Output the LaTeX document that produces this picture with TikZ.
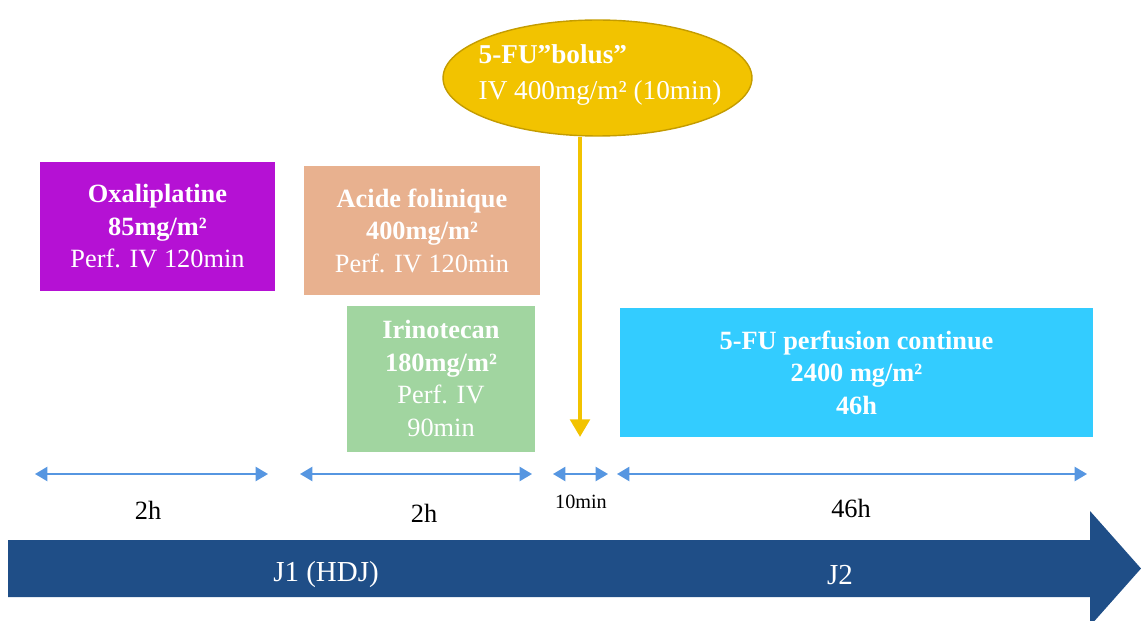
\documentclass[tikz,border=0pt]{standalone}
\usepackage{fontspec}
\setmainfont{Liberation Serif}
\usepackage{tikz}
\usetikzlibrary{shapes.geometric, arrows.meta, positioning}
\usepackage{xcolor}
\definecolor{oxacolor}{RGB}{181,17,212}
\definecolor{acidecolor}{RGB}{232,177,143}
\definecolor{irinocolor}{RGB}{161,213,160}
\definecolor{perfcolor}{RGB}{51,204,255}
\definecolor{boluscolor}{RGB}{242,195,0}
\definecolor{bolusborder}{RGB}{196,156,0}
\definecolor{jourcolor}{RGB}{31,78,135}
\definecolor{spancolor}{RGB}{86,150,225}

\begin{document}
\begin{tikzpicture}[x=0.02cm, y=-0.02cm, node distance=0.2cm]
\useasboundingbox (0,0) rectangle (1141,621);
% Define styles
\tikzstyle{drug} = [rectangle, text=white, align=center, inner sep=0pt, font=\fontsize{15}{18.5}\selectfont]
\tikzstyle{span} = [{Triangle[length=7pt,width=8pt]}-{Triangle[length=7pt,width=8pt]}, line width=1.1pt, draw=spancolor]
\tikzstyle{duree} = [text=black, font=\fontsize{15}{18}\selectfont]
\tikzstyle{jour} = [text=white, font=\fontsize{16.5}{20}\selectfont]
% Define nodes (drugs)
\node[drug, fill=oxacolor, minimum width=4.7cm, minimum height=2.58cm] (Oxaliplatine) at (157.5,226.5) {\textbf{Oxaliplatine}\\\textbf{85mg/m²}\\Perf. IV 120min};
\node[drug, fill=acidecolor, minimum width=4.72cm, minimum height=2.58cm] (AcideFolinique) at (422,230.5) {\textbf{Acide folinique}\\\textbf{400mg/m²}\\Perf. IV 120min};
\node[drug, fill=irinocolor, minimum width=3.76cm, minimum height=2.92cm, below=of AcideFolinique, xshift=0.38cm] (Irinotecan) {\textbf{Irinotecan}\\\textbf{180mg/m²}\\Perf. IV\\90min};
\node[drug, fill=perfcolor, minimum width=9.46cm, minimum height=2.58cm] (PerfusionFU) at (856.5,372.5) {\textbf{5-FU perfusion continue}\\\textbf{2400 mg/m²}\\\textbf{46h}};
% Bolus
\node[ellipse, draw=bolusborder, line width=0.8pt, fill=boluscolor, inner sep=0pt, minimum width=6.18cm, minimum height=2.32cm] (BolusFU) at (597.5,78) {};
\node[text=white, align=left, font=\fontsize{15.5}{20}\selectfont] (BolusText) at (600,75) {\textbf{5-FU”bolus”}\\IV 400mg/m² (10min)};
\coordinate (BolusTip) at (580,437);
\draw[-{Triangle[length=10pt,width=11pt]}, line width=2.3pt, draw=boluscolor] (BolusFU.south -| BolusTip) -- (BolusTip);
% Durations
\coordinate (S1a) at (35,474);
\coordinate (S1b) at (268,474);
\coordinate (S2a) at (300,474);
\coordinate (S2b) at (532,474);
\coordinate (S3a) at (553,474);
\coordinate (S3b) at (608,474);
\coordinate (S4a) at (617,474);
\coordinate (S4b) at (1087,474);
\draw[span] (S1a) -- (S1b);
\draw[span] (S2a) -- (S2b);
\draw[span] (S3a) -- (S3b);
\draw[span] (S4a) -- (S4b);
\node[duree] (Duree1) at (148,510) {2h};
\node[duree] (Duree2) at (424,513) {2h};
\node[duree, font=\fontsize{11.5}{14}\selectfont] (Duree3) at (581,502) {10min};
\node[duree] (Duree4) at (851,508) {46h};
% Timeline
\fill[jourcolor] (8,540) -- (1090,540) -- (1090,511) -- (1141,568.5) -- (1090,626) -- (1090,597) -- (8,597) -- cycle;
\node[jour] (J1) at (326,575) {J1 (HDJ)};
\node[jour] (J2) at (840,575) {J2};
\end{tikzpicture}
\end{document}
